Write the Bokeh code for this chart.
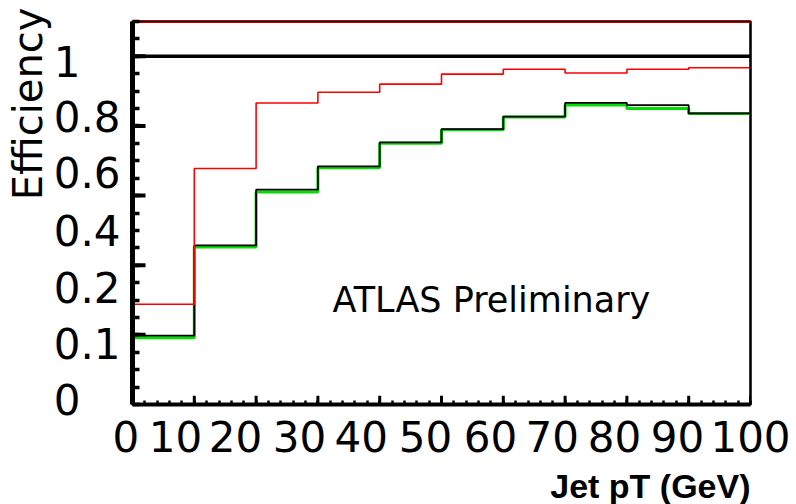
import math
from bokeh.plotting import figure
from bokeh.models import (Range1d, LinearAxis, FixedTicker, Label, Span, Title,
                          CustomJSTickFormatter)
from bokeh.embed import file_html
from bokeh.resources import INLINE

# ---------------- data ----------------
bin_edges = [0, 10, 20, 30, 40, 50, 60, 70, 80, 90, 100]
red_eff = [0.288, 0.678, 0.866, 0.897, 0.920, 0.949, 0.963, 0.952, 0.963, 0.967]
green_eff = [0.192, 0.452, 0.610, 0.680, 0.750, 0.789, 0.826, 0.860, 0.850, 0.836]
black_eff = [0.198, 0.457, 0.617, 0.684, 0.753, 0.791, 0.827, 0.866, 0.860, 0.836]
reference_level = 1.0

x_tick_values = [0, 10, 20, 30, 40, 50, 60, 70, 80, 90, 100]
x_tick_labels = ["0", "10", "20", "30", "40", "50", "60", "70", "80", "90", "100"]
y_tick_labels = ["1", "0.8", "0.6", "0.4", "0.2", "0.1", "0"]

# ---------------- layout (canvas pixels, top-left origin) ----------------
W, H = 796, 504
FL, FR, FT, FB = 132, 750, 21, 411
X0, X1, Y0, Y1 = 0, 100, 0, 1.1
PXX = (FR - FL) / (X1 - X0)
PXY = (FB - FT) / (Y1 - Y0)

def dx(px):
    return X0 + (px - FL) / PXX

def dy(py):
    return Y0 + (FB - py) / PXY

# where the tick labels sit in the picture (centres), clamped to the frame
x_label_centers = [132, 175, 235, 299, 360.7, 425, 490, 551.7, 614, 677, 750]
x_label_pos = [round(dx(c), 4) for c in x_label_centers]
y_label_centers = [62.5, 119, 176, 235, 292.5, 350, 407]
y_label_pos = [round(dy(c), 4) for c in y_label_centers]
# invisible padding (figure space / punctuation space) so short y labels line up on the left
ypad = {"1": "1\u2007\u2008", "0": "0\u2007\u2008"}
# a trailing plain space nudges the "0" label to the left of the frame edge
xpad = {"0": "0 "}

p = figure(width=W, height=H, output_backend="svg", toolbar_location=None,
           x_range=Range1d(X0, X1), y_range=Range1d(Y0, Y1),
           min_border_left=FL, min_border_right=W - FR,
           min_border_top=FT, min_border_bottom=H - FB)
p.grid.visible = False
p.background_fill_color = "white"
p.border_fill_color = "white"
p.outline_line_color = "red"
p.outline_line_width = 3

# x axis: labels at their own places, short tick marks every 2, long ones every 10
xmin = [float(v) for v in range(0, 101, 2)]
p.xaxis.ticker = FixedTicker(ticks=x_label_pos, minor_ticks=xmin)
p.xaxis.major_label_overrides = {v: xpad.get(t, t) for v, t in zip(x_label_pos, x_tick_labels)}
p.xaxis.major_label_text_font = "DejaVu Sans"
p.xaxis.major_label_text_font_size = "42px"
p.xaxis.major_label_text_color = "black"
p.xaxis.major_label_standoff = 8
p.xaxis.axis_line_width = 4
p.xaxis.major_tick_line_color = None
p.xaxis.major_tick_in = 0
p.xaxis.major_tick_out = 0
p.xaxis.minor_tick_in = 4
p.xaxis.minor_tick_out = 0
p.xaxis.minor_tick_line_width = 2.5

p.segment(x0=x_tick_values, y0=[Y0] * len(x_tick_values),
          x1=x_tick_values, y1=[Y0 + 9 / PXY] * len(x_tick_values),
          line_color="black", line_width=3)

# y axis: labels at their own places, short/long tick marks every 0.05 / 0.2
ymin = [round(0.05 * k, 2) for k in range(0, 23)]
p.yaxis.ticker = FixedTicker(ticks=y_label_pos, minor_ticks=ymin)
p.yaxis.major_label_overrides = {v: ypad.get(t, t) for v, t in zip(y_label_pos, y_tick_labels)}
p.yaxis.major_label_text_font = "DejaVu Sans"
p.yaxis.major_label_text_font_size = "42px"
p.yaxis.major_label_text_color = "black"
p.yaxis.major_label_standoff = 12
p.yaxis.axis_line_width = 5
p.yaxis.major_tick_line_color = None
p.yaxis.major_tick_in = 0
p.yaxis.major_tick_out = 0
p.yaxis.minor_tick_in = 7
p.yaxis.minor_tick_out = 0
p.yaxis.minor_tick_line_width = 3.5

ylong = [round(0.2 * k, 2) for k in range(1, 6)]
p.segment(x0=[X0] * len(ylong), y0=ylong, x1=[X0 + 13 / PXX] * len(ylong), y1=ylong,
          line_color="black", line_width=4)

# thin black frame on top and right
for side in ("above", "right"):
    ax = LinearAxis(ticker=FixedTicker(ticks=[]), formatter=CustomJSTickFormatter(code="return ''"),
                    axis_line_width=1.5, axis_line_color="black",
                    major_tick_line_color=None, minor_tick_line_color=None,
                    major_label_standoff=0)
    p.add_layout(ax, side)

def stairs(edges, vals):
    xs, ys = [], []
    for i, v in enumerate(vals):
        xs += [edges[i], edges[i + 1]]
        ys += [v, v]
    return xs, ys

gx, gy = stairs(bin_edges, green_eff)
p.line(gx, gy, line_color="#00e000", line_width=3)
bx, by = stairs(bin_edges, black_eff)
p.line(bx, by, line_color="black", line_width=1.8)
rx, ry = stairs(bin_edges, red_eff)
p.line(rx, ry, line_color="red", line_width=1.6)

p.add_layout(Span(location=reference_level, dimension="width", line_color="black", line_width=3.5))

# axis titles, placed at the ends as in the picture
p.add_layout(Title(text="Efficiency", align="right", offset=-14, standoff=0,
                   text_font="DejaVu Sans", text_font_style="normal", text_font_size="40px",
                   text_color="black"), "left")
p.add_layout(Title(text="Jet pT (GeV)", align="right", standoff=0,
                   text_font="Liberation Sans", text_font_style="bold", text_font_size="34px",
                   text_color="black"), "below")

p.add_layout(Label(x=dx(332), y=dy(305), text="ATLAS Preliminary",
                   text_font="DejaVu Sans", text_font_size="35px",
                   text_align="left", text_baseline="alphabetic", text_color="black"))

open("out.html", "w").write(file_html(p, INLINE))
